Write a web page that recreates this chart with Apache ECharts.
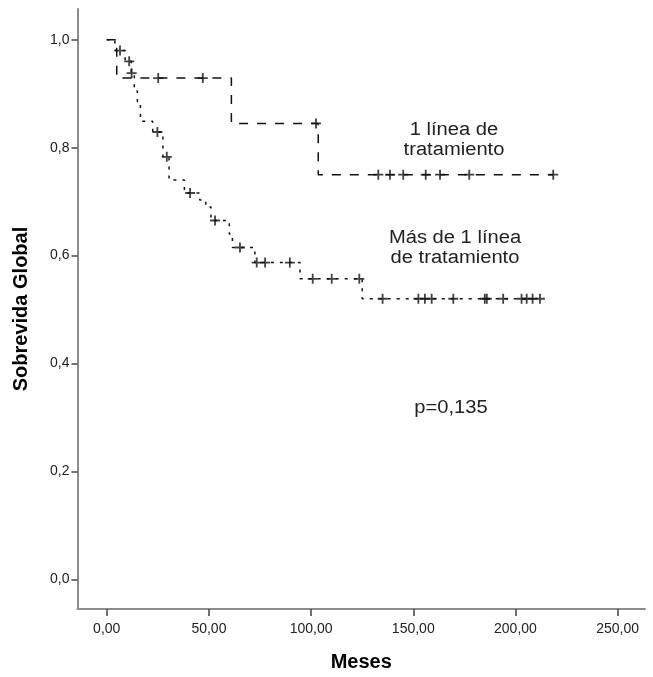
<!DOCTYPE html>
<html>
<head>
<meta charset="utf-8">
<script src="https://cdn.jsdelivr.net/npm/echarts@6/dist/echarts.min.js"></script>
<style>
  html, body { margin: 0; padding: 0; background: #fff; }
  #chart { width: 653px; height: 677px; }
</style>
</head>
<body>
<div id="chart"></div>
<script>
// Kaplan-Meier steps: [meses, sobrevida]
const oneLineSteps = [[0, 1.0], [4.9, 0.929], [61, 0.845], [103.5, 0.750], [218.5, 0.750]];
const oneLineCensored = [
  [25.2, 0.929], [47, 0.929], [102.4, 0.845],
  [132.9, 0.750], [138.6, 0.750], [145.1, 0.750], [156.1, 0.750],
  [163.1, 0.750], [177.4, 0.750], [218.5, 0.750]
];

const moreLinesSteps = [
  [0, 1.0], [4, 0.980], [9, 0.960], [12, 0.938], [13.5, 0.905], [15, 0.885],
  [16.5, 0.849], [22.5, 0.829], [27.5, 0.783], [30.5, 0.740], [38, 0.716],
  [45.5, 0.703], [48.5, 0.690], [51, 0.665], [60, 0.640], [61.5, 0.615],
  [72.5, 0.587], [94.6, 0.557], [125, 0.520], [212, 0.520]
];
const moreLinesCensored = [
  [6.5, 0.980], [11, 0.960], [12.2, 0.938], [24.8, 0.829], [29.4, 0.783],
  [40.8, 0.716], [53, 0.665], [65.2, 0.615], [73.4, 0.587], [77.5, 0.587],
  [89.6, 0.587], [100.8, 0.557], [110.1, 0.557], [123.6, 0.557],
  [135, 0.520], [152.5, 0.520], [155.7, 0.520], [159, 0.520], [169.6, 0.520],
  [185, 0.520], [186, 0.520], [194, 0.520], [203, 0.520], [205.5, 0.520],
  [208.4, 0.520], [212, 0.520]
];

const xTickValues = [0, 50, 100, 150, 200, 250];
const xTickLabels = ['0,00', '50,00', '100,00', '150,00', '200,00', '250,00'];
const yTickValues = [0, 0.2, 0.4, 0.6, 0.8, 1.0];
const yTickLabels = ['0,0', '0,2', '0,4', '0,6', '0,8', '1,0'];

const FONT = '"Liberation Sans", Arial, sans-serif';
const PLUS = 'path://M0,4.1H10V5.9H0Z M4.1,0H5.9V10H4.1Z';

const chart = echarts.init(document.getElementById('chart'));

function tickLabel(values, labels) {
  return (v) => {
    const i = values.findIndex((t) => Math.abs(t - v) < 1e-6);
    return i >= 0 ? labels[i] : '';
  };
}

// plain text note placed at a pixel spot, centred on x
function note(x, y, text) {
  return {
    type: 'text', x, y, scaleX: 1.12,
    style: {
      text, x: 0, y: 0, align: 'center', verticalAlign: 'top',
      font: '18px ' + FONT, fill: '#222', lineHeight: 20,
    },
  };
}

const axisCommon = {
  axisLine: { show: true, onZero: false, lineStyle: { color: '#8c8c8c', width: 2 } },
  axisTick: { show: true, length: 6, lineStyle: { color: '#444', width: 1.5 } },
  splitLine: { show: false },
  nameLocation: 'middle',
  nameTextStyle: { fontFamily: FONT, fontWeight: 'bold', fontSize: 20, color: '#000' },
};

chart.setOption({
  animation: false,
  backgroundColor: '#fff',
  grid: { left: 77.5, right: 8, top: 9, bottom: 64.5, containLabel: false },
  xAxis: {
    ...axisCommon,
    type: 'value',
    min: -14.3,
    max: 263.4,
    name: 'Meses',
    nameGap: 43,
    axisTick: { ...axisCommon.axisTick, length: 7, customValues: xTickValues },
    axisLabel: {
      customValues: xTickValues,
      formatter: tickLabel(xTickValues, xTickLabels),
      fontFamily: FONT, fontSize: 14, color: '#222', margin: 13,
    },
  },
  yAxis: {
    ...axisCommon,
    type: 'value',
    min: -0.055,
    max: 1.057,
    name: 'Sobrevida Global',
    nameGap: 46,
    axisTick: { ...axisCommon.axisTick, customValues: yTickValues },
    axisLabel: {
      customValues: yTickValues,
      formatter: tickLabel(yTickValues, yTickLabels),
      fontFamily: FONT, fontSize: 14, color: '#222', margin: 8,
    },
  },
  series: [
    {
      name: '1 línea de tratamiento',
      type: 'line',
      step: 'end',
      data: oneLineSteps,
      showSymbol: false,
      lineStyle: { color: '#111', width: 1.5, type: [9, 9] },
    },
    {
      name: 'Más de 1 línea de tratamiento',
      type: 'line',
      step: 'end',
      data: moreLinesSteps,
      showSymbol: false,
      lineStyle: { color: '#111', width: 1.5, type: [3, 6] },
    },
    {
      type: 'scatter',
      data: oneLineCensored,
      symbol: PLUS,
      symbolSize: 10,
      itemStyle: { color: '#111' },
    },
    {
      type: 'scatter',
      data: moreLinesCensored,
      symbol: PLUS,
      symbolSize: 10,
      itemStyle: { color: '#111' },
    },
  ],
  graphic: [
    note(454, 120, '1 línea de\ntratamiento'),
    note(455, 228, 'Más de 1 línea\nde tratamiento'),
    note(451, 398, 'p=0,135'),
  ],
});
</script>
</body>
</html>
